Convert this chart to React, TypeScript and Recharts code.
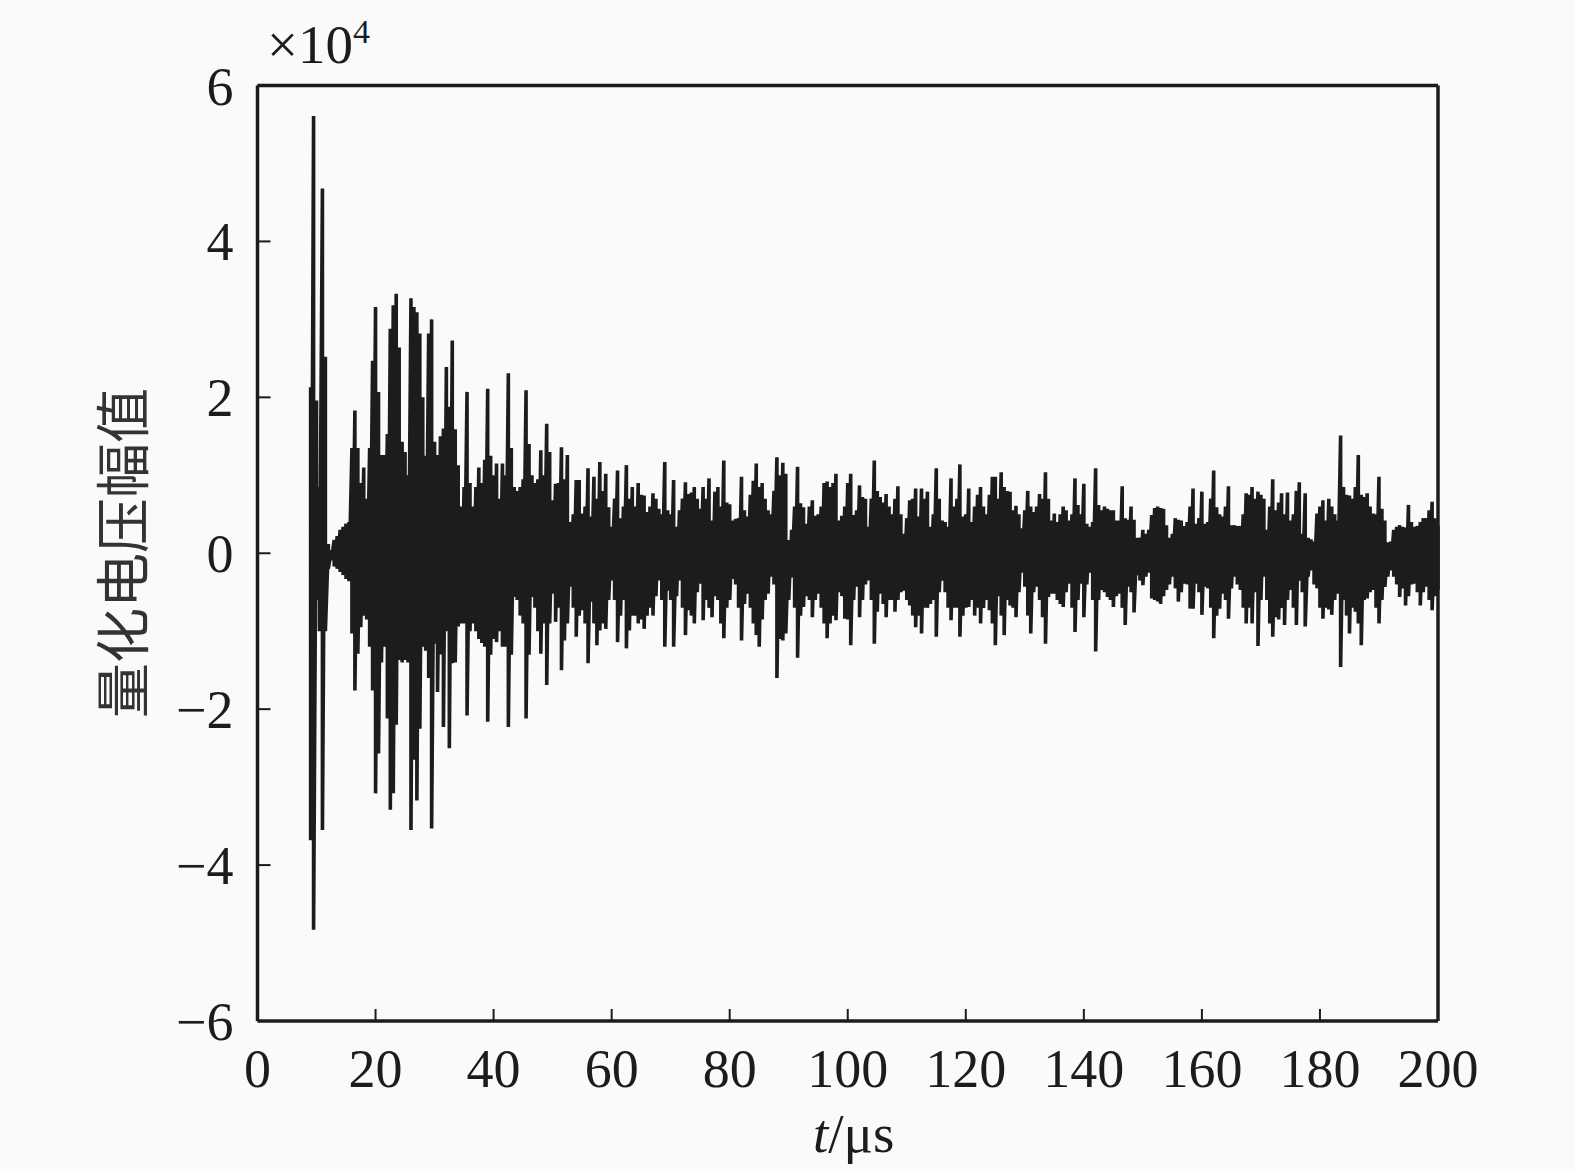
import { Line, LineChart, XAxis, YAxis } from "recharts";

const INK = "#1c1c1c";
const SERIF = "'Liberation Serif', serif";

const xTicks = [0, 20, 40, 60, 80, 100, 120, 140, 160, 180, 200];
const yTicks = [-6, -4, -2, 0, 2, 4, 6];

// envelope of the trace every 0.5 us, starting at 9 us (x 10^4)
const sampleStart = 9;
const sampleStep = 0.5;

const upperPeaks = [
  2.13, 5.61, 1.96, 0.85, 4.68, 2.52, 0.12, 0.04, 0.17, 0.22, 0.3, 0.34, 0.38, 0.4, 1.35, 1.83, 1.35, 0.9, 1.1, 0.7, 1.35, 2.47,
  3.16, 2.07, 1.26, 1.26, 1.53, 2.88, 3.18, 3.33, 2.64, 1.43,
  1.3, 1.0, 3.27, 3.16, 3.09, 2.82, 2.0, 1.25, 2.82, 3.0,
  1.43, 1.26, 1.5, 1.6, 2.39, 1.88, 2.73, 1.59, 1.13, 0.6,
  0.85, 2.07, 0.9, 0.6, 0.85, 1.1, 0.9, 1.2, 2.11, 1.25,
  1.0, 1.15, 0.7, 1.15, 1.0, 2.31, 1.35, 0.85, 0.8, 0.85,
  0.95, 2.09, 1.4, 1.0, 0.9, 0.95, 1.32, 1.0, 1.66, 1.3,
  0.68, 0.89, 0.9, 1.36, 0.95, 1.26, 0.4, 0.5, 0.94, 0.94,
  0.51, 0.6, 1.09, 0.47, 0.98, 0.7, 1.17, 0.8, 1.02, 0.59,
  0.34, 0.7, 1.06, 0.45, 0.6, 1.13, 0.7, 0.85, 0.6, 0.9,
  0.75, 0.74, 0.53, 0.6, 0.77, 0.7, 0.57, 0.5, 1.17, 0.55,
  0.5, 0.94, 0.34, 0.55, 0.7, 0.91, 0.76, 0.78, 0.85, 0.7,
  0.57, 0.85, 0.7, 0.96, 0.42, 0.79, 0.85, 0.6, 1.19, 0.65,
  0.63, 0.42, 0.44, 0.45, 0.98, 0.55, 0.47, 0.75, 0.93, 1.15,
  0.85, 0.9, 0.7, 0.55, 0.5, 0.8, 1.23, 1.0, 1.16, 1.02,
  0.17, 0.3, 0.6, 1.11, 0.64, 0.59, 0.38, 0.6, 0.68, 0.48,
  0.5, 0.6, 0.9, 0.92, 0.85, 0.9, 1.02, 0.42, 0.48, 0.6,
  0.9, 1.02, 0.49, 0.55, 0.87, 0.72, 0.7, 0.34, 0.7, 1.19,
  0.8, 0.72, 0.65, 0.76, 0.6, 0.5, 0.7, 0.86, 0.5, 0.25,
  0.45, 0.68, 0.7, 0.83, 0.47, 0.83, 0.7, 0.79, 0.34, 0.5,
  1.09, 0.7, 0.42, 0.4, 0.34, 0.96, 0.6, 0.7, 1.14, 0.47,
  0.5, 0.83, 0.4, 0.6, 0.75, 0.85, 0.6, 0.5, 0.75, 0.98,
  0.98, 0.7, 1.04, 0.85, 0.8, 0.79, 0.55, 0.61, 0.5, 0.32,
  0.55, 0.8, 0.6, 0.53, 0.6, 0.76, 0.7, 1.04, 0.7, 0.42,
  0.51, 0.4, 0.5, 0.6, 0.55, 0.42, 0.5, 0.96, 0.62, 0.5,
  0.89, 0.38, 0.34, 0.4, 1.09, 0.62, 0.55, 0.6, 0.57, 0.55,
  0.55, 0.42, 0.42, 0.86, 0.45, 0.43, 0.6, 0.43, 0.2, 0.2,
  0.3, 0.25, 0.3, 0.49, 0.58, 0.6, 0.58, 0.57, 0.36, 0.2,
  0.25, 0.45, 0.43, 0.42, 0.35, 0.4, 0.6, 0.83, 0.38, 0.45,
  0.79, 0.38, 0.4, 0.7, 1.06, 0.59, 0.5, 0.47, 0.6, 0.86,
  0.36, 0.36, 0.35, 0.35, 0.5, 0.77, 0.75, 0.85, 0.7, 0.79,
  0.75, 0.7, 0.3, 0.6, 0.95, 0.55, 0.65, 0.77, 0.5, 0.78,
  0.42, 0.5, 0.8, 0.91, 0.25, 0.77, 0.2, 0.18, 0.15, 0.51,
  0.6, 0.68, 0.42, 0.7, 0.6, 0.5, 0.42, 1.51, 0.85, 0.75,
  0.74, 0.7, 0.85, 1.26, 0.75, 0.72, 0.77, 0.6, 0.51, 0.5,
  0.98, 0.57, 0.42, 0.14, 0.15, 0.3, 0.34, 0.36, 0.34, 0.33,
  0.62, 0.4, 0.34, 0.35, 0.4, 0.45, 0.45, 0.55, 0.66, 0.45,
  0.35,
];

const lowerPeaks = [
  -3.68, -4.83, -0.6, -1.0, -3.55, -1.0, -0.2, -0.09, -0.17, -0.2, -0.24, -0.28, -0.33, -0.36, -1.03, -1.76, -1.29, -0.95, -0.8, -0.85, -1.2, -1.76,
  -3.08, -2.57, -1.4, -1.2, -2.12, -3.29, -3.08, -2.2, -1.37, -1.4,
  -1.37, -1.4, -3.55, -2.65, -3.17, -2.25, -1.2, -1.25, -1.6, -3.53,
  -1.16, -1.78, -1.3, -2.23, -1.0, -2.5, -1.41, -1.4, -0.94, -0.9,
  -0.9, -2.08, -1.0, -0.9, -1.0, -1.1, -1.15, -1.2, -2.16, -1.3,
  -1.1, -1.14, -1.0, -1.2, -1.2, -2.23, -1.3, -0.56, -0.6, -0.8,
  -0.9, -2.12, -1.3, -0.56, -0.7, -1.0, -1.29, -0.9, -1.69, -0.9,
  -0.52, -0.88, -0.7, -1.5, -1.12, -0.9, -0.43, -0.7, -1.07, -0.8,
  -0.73, -0.9, -1.41, -0.62, -0.9, -1.18, -0.99, -0.9, -0.97, -0.6,
  -0.35, -0.6, -1.14, -0.8, -0.6, -1.22, -0.99, -0.8, -0.8, -0.9,
  -0.85, -0.97, -0.8, -0.7, -0.8, -0.55, -0.35, -0.6, -1.2, -0.48,
  -0.6, -1.2, -0.55, -0.35, -0.7, -1.05, -0.73, -0.8, -0.9, -0.5,
  -0.39, -0.86, -0.6, -0.7, -0.82, -0.55, -0.6, -0.9, -1.09, -0.7,
  -0.6, -0.33, -0.4, -0.7, -1.12, -0.65, -0.52, -0.7, -0.9, -1.05,
  -1.2, -0.85, -0.6, -0.52, -0.3, -0.4, -1.6, -1.1, -1.12, -1.03,
  -0.6, -0.31, -0.7, -1.34, -0.8, -0.69, -0.55, -0.6, -0.82, -0.6,
  -0.52, -0.7, -0.9, -1.09, -0.9, -0.8, -0.86, -0.5, -0.55, -0.84,
  -0.85, -1.18, -0.6, -0.43, -0.82, -0.6, -0.4, -0.35, -0.6, -1.16,
  -0.75, -0.52, -0.65, -0.82, -0.6, -0.6, -0.75, -0.6, -0.5, -0.48,
  -0.6, -0.67, -0.8, -0.95, -0.8, -1.03, -0.7, -0.7, -0.65, -0.6,
  -1.07, -0.5, -0.35, -0.5, -0.7, -0.86, -0.7, -0.7, -1.07, -0.8,
  -0.7, -0.69, -0.6, -0.8, -0.7, -0.9, -0.7, -0.6, -0.73, -0.9,
  -1.18, -0.55, -0.8, -1.05, -0.6, -0.67, -0.7, -0.82, -0.5, -0.25,
  -0.43, -0.8, -1.03, -0.5, -0.43, -0.6, -0.82, -1.16, -0.56, -0.52,
  -0.52, -0.6, -0.65, -0.69, -0.5, -0.39, -0.7, -1.01, -0.6, -0.39,
  -0.82, -0.4, -0.25, -0.6, -1.26, -0.6, -0.47, -0.5, -0.56, -0.6,
  -0.69, -0.55, -0.52, -0.7, -0.92, -0.43, -0.5, -0.76, -0.28, -0.35,
  -0.41, -0.3, -0.25, -0.58, -0.6, -0.62, -0.65, -0.55, -0.47, -0.4,
  -0.3, -0.45, -0.62, -0.5, -0.39, -0.4, -0.71, -0.71, -0.39, -0.5,
  -0.79, -0.43, -0.45, -0.7, -1.09, -0.8, -0.71, -0.52, -0.6, -0.84,
  -0.45, -0.3, -0.4, -0.47, -0.7, -0.9, -0.7, -0.9, -0.5, -1.19,
  -0.6, -0.3, -0.6, -0.9, -1.07, -0.82, -0.85, -0.7, -0.92, -0.6,
  -0.47, -0.7, -0.92, -0.35, -0.5, -0.94, -0.3, -0.22, -0.4, -0.45,
  -0.7, -0.84, -0.7, -0.72, -0.79, -0.6, -0.52, -1.46, -0.6, -0.8,
  -1.03, -0.7, -0.75, -0.9, -1.18, -0.6, -0.58, -0.5, -0.47, -0.7,
  -0.9, -0.6, -0.43, -0.3, -0.22, -0.3, -0.4, -0.56, -0.45, -0.67,
  -0.55, -0.4, -0.39, -0.5, -0.67, -0.5, -0.43, -0.6, -0.73, -0.55,
  -0.47,
];

// each sample is drawn as a vertical stroke from its upper to its lower peak
const trace = upperPeaks.flatMap((up, i) => {
  const t = sampleStart + i * sampleStep;
  return [
    { t, v: up },
    { t, v: lowerPeaks[i] },
  ];
});

function XTick({ x, y, payload }: any) {
  return (
    <g>
      <line x1={x} x2={x} y1={y} y2={y - 12} stroke={INK} strokeWidth={2} />
      <text x={x} y={y + 66} textAnchor="middle" fontFamily={SERIF} fontSize={54} fill={INK}>
        {payload.value}
      </text>
    </g>
  );
}

function YTick({ x, y, payload }: any) {
  const label = payload.value < 0 ? `\u2212${-payload.value}` : `${payload.value}`;
  return (
    <g>
      <line x1={x} x2={x + 13} y1={y} y2={y} stroke={INK} strokeWidth={2} />
      <text x={x - 24} y={y + 19} textAnchor="end" fontFamily={SERIF} fontSize={54} fill={INK}>
        {label}
      </text>
    </g>
  );
}

export default function App() {
  return (
    <div style={{ position: "absolute", left: 0, top: 0, width: 1575, height: 1169, background: "#fafafa" }}>
      <LineChart width={1575} height={1169} data={trace} margin={{ top: 84.5, right: 136, bottom: 0, left: 0 }}>
        <XAxis
          dataKey="t"
          type="number"
          domain={[0, 200]}
          ticks={xTicks}
          interval={0}
          height={148}
          tickSize={0}
          tickMargin={0}
          tickLine={false}
          tick={<XTick />}
          axisLine={{ stroke: INK, strokeWidth: 3.5 }}
        />
        <XAxis xAxisId="top" orientation="top" type="number" domain={[0, 200]} height={1} tick={false} tickLine={false} axisLine={{ stroke: INK, strokeWidth: 3.5 }} />
        <YAxis
          type="number"
          domain={[-6, 6]}
          ticks={yTicks}
          interval={0}
          width={257.5}
          tickSize={0}
          tickMargin={0}
          tickLine={false}
          tick={<YTick />}
          axisLine={{ stroke: INK, strokeWidth: 3.5 }}
        />
        <YAxis yAxisId="right" orientation="right" type="number" domain={[-6, 6]} width={1} tick={false} tickLine={false} axisLine={{ stroke: INK, strokeWidth: 3.5 }} />
        <Line dataKey="v" type="linear" dot={false} stroke={INK} strokeWidth={3.6} strokeLinejoin="bevel" isAnimationActive={false} />
        <text x={267} y={63} fontFamily={SERIF} fontSize={55} fill={INK}>
          ×10
          <tspan fontSize={34} dy={-20}>4</tspan>
        </text>
        <text x={813} y={1152} fontFamily={SERIF} fontSize={55} fill={INK}>
          <tspan fontStyle="italic">t</tspan>/μs
        </text>
        <text
          x={0}
          y={0}
          transform="translate(143 553) rotate(-90)"
          textAnchor="middle"
          fontFamily="'Noto Sans CJK SC', sans-serif"
          fontSize={55}
          fill="#333"
        >
          量化电压幅值
        </text>
      </LineChart>
    </div>
  );
}
